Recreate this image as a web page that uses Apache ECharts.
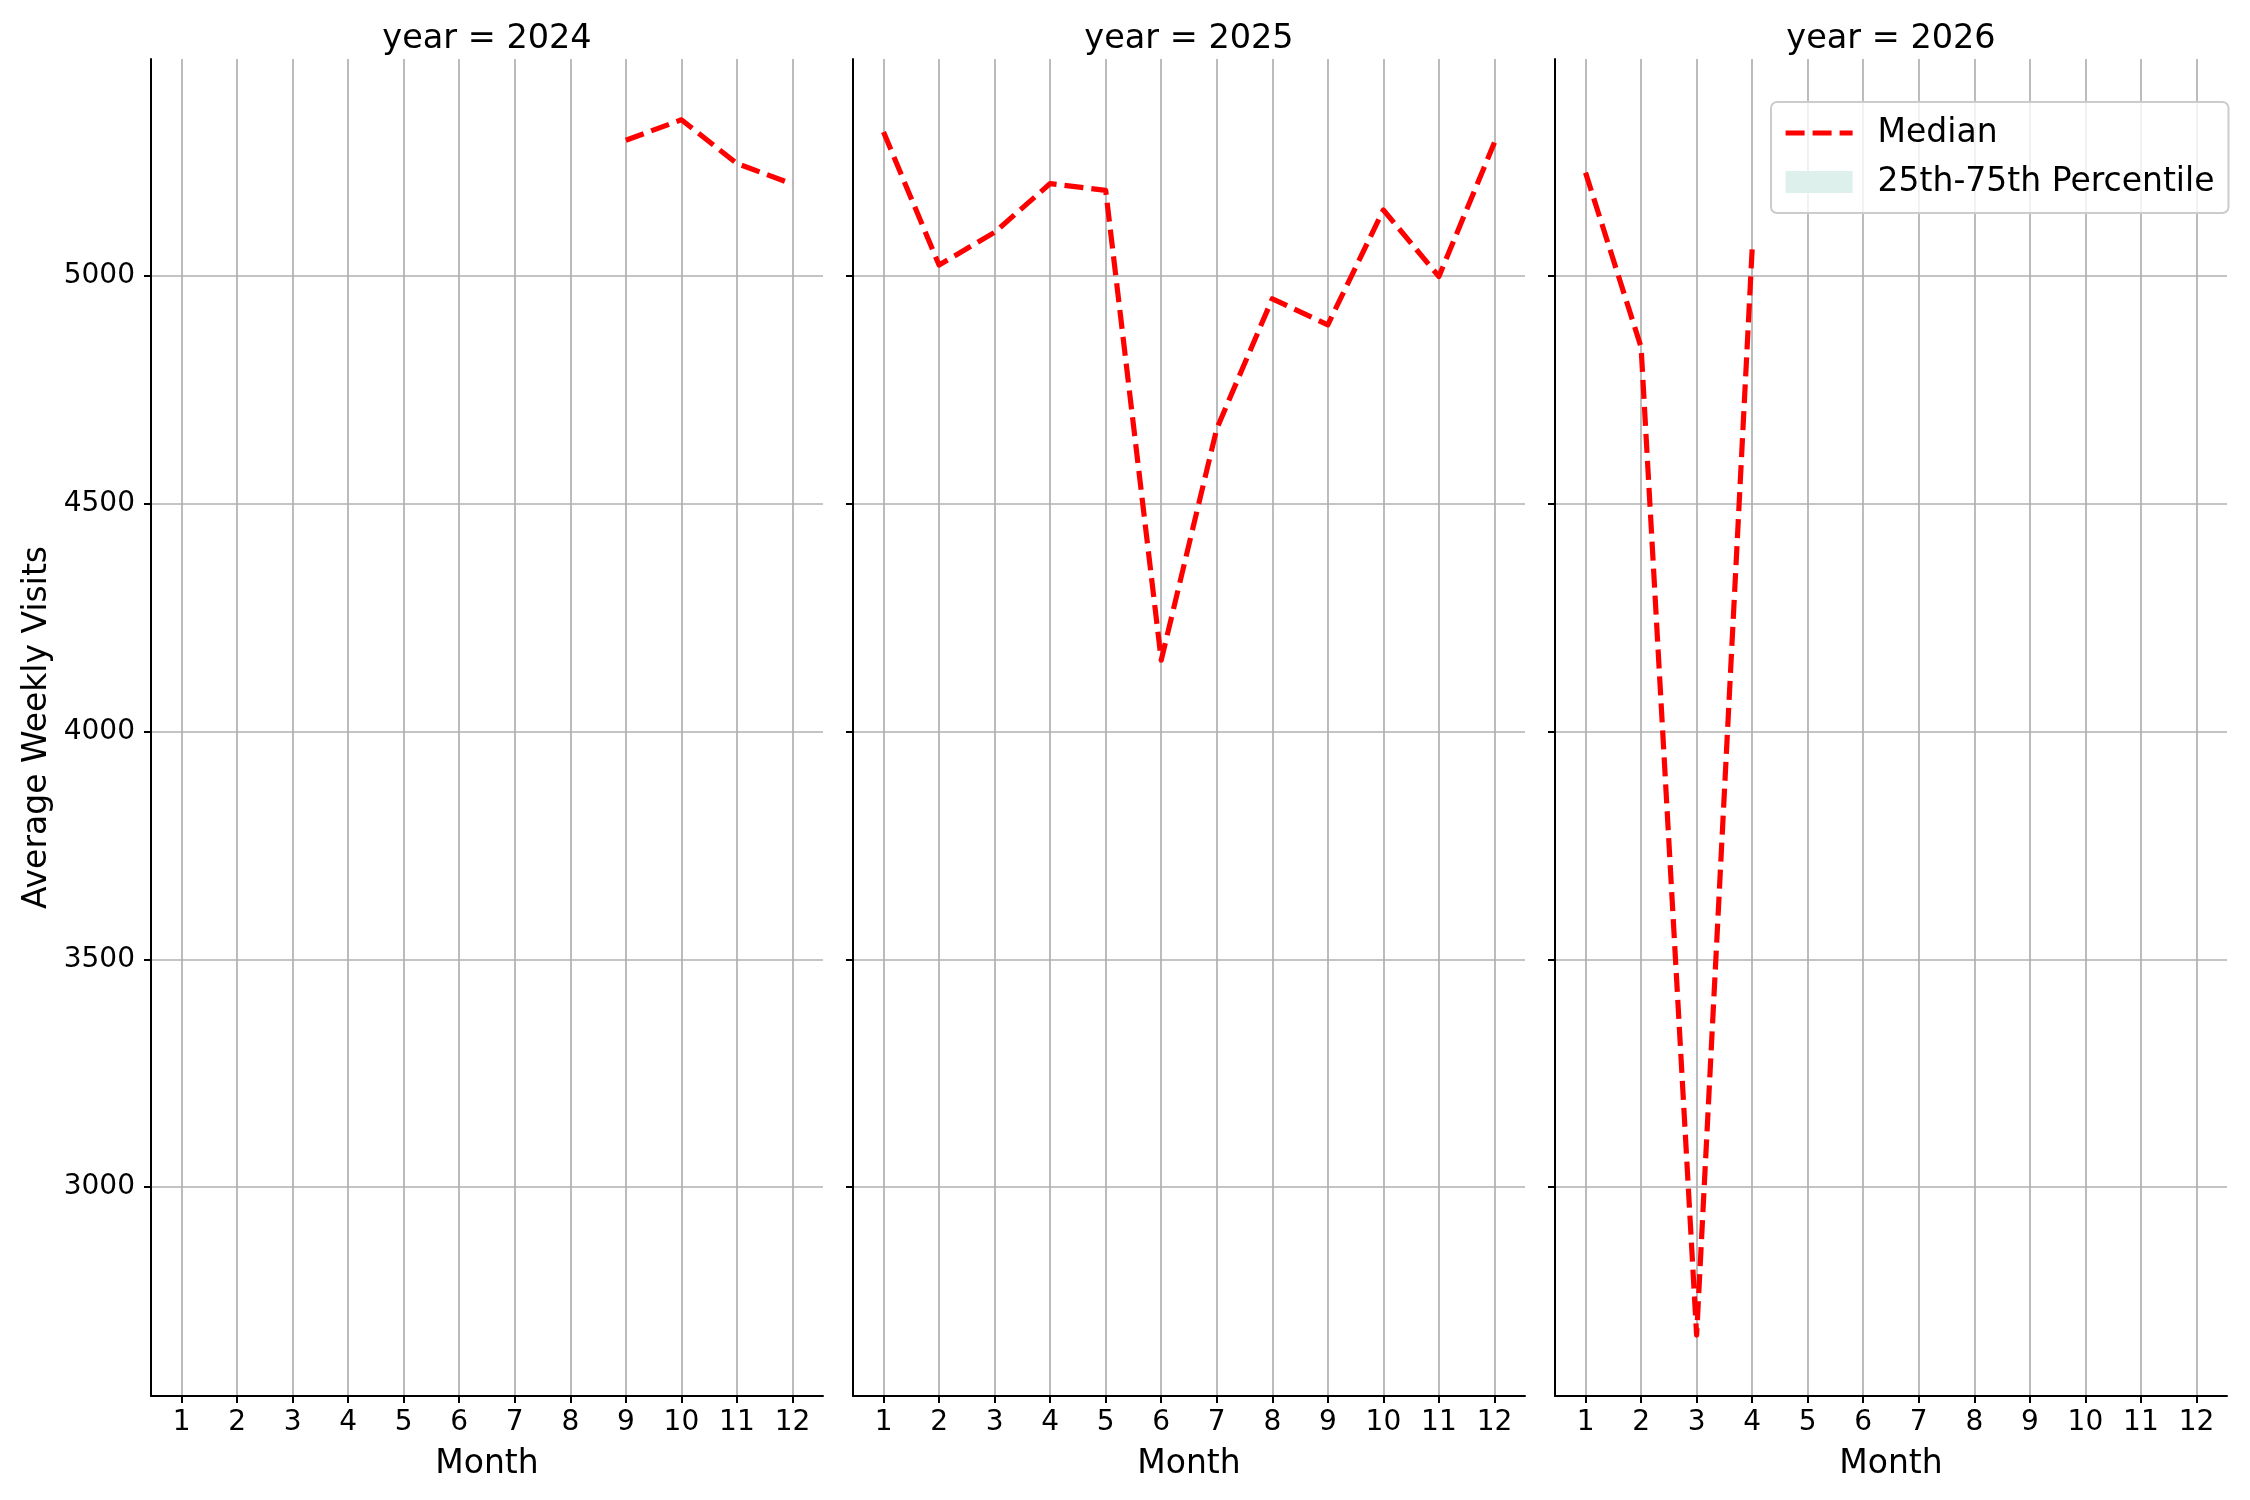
<!DOCTYPE html>
<html>
<head>
<meta charset="utf-8">
<script src="https://cdn.jsdelivr.net/npm/echarts@6/dist/echarts.min.js"></script>
<style>
html,body{margin:0;padding:0;background:#fff;}
#chart{width:2250px;height:1500px;}
</style>
</head>
<body>
<div id="chart"></div>
<script>
// ---- data ----
const years = [2024, 2025, 2026];
const months = [1, 2, 3, 4, 5, 6, 7, 8, 9, 10, 11, 12];
const median2024 = [null, null, null, null, null, null, null, null, 5298, 5343, 5247, 5202];
const median2025 = [5316, 5024, 5096, 5203, 5188, 4157, 4665, 4950, 4893, 5145, 4999, 5293];
const median2026 = [5227, 4844, 2675, 5059, null, null, null, null, null, null, null, null];
const yTicks = [3000, 3500, 4000, 4500, 5000];
const medianByYear = [median2024, median2025, median2026];

// ---- axis limits (matplotlib-style 5% margins) ----
const allVals = medianByYear.flat().filter(v => v != null);
const dMin = Math.min(...allVals), dMax = Math.max(...allVals);
const yPad = (dMax - dMin) * 0.05;
const yMin = dMin - yPad, yMax = dMax + yPad;
const xPad = (months[months.length - 1] - months[0]) * 0.05;
const xMin = months[0] - xPad, xMax = months[months.length - 1] + xPad;

const FONT = 'DejaVu Sans';
const gridLefts = [151, 853, 1555];
const gridWidth = 672;
const gridTop = 59, gridBottomY = 1396;

const grids = gridLefts.map(l => ({left: l, top: gridTop, width: gridWidth, height: gridBottomY - gridTop, containLabel: false}));

const xAxes = gridLefts.map((l, i) => ({
  type: 'value', gridIndex: i, min: xMin, max: xMax,
  name: 'Month', nameLocation: 'middle', nameGap: 52,
  nameTextStyle: {fontFamily: FONT, fontSize: 33, color: '#000'},
  axisLine: {show: true, onZero: false, lineStyle: {color: '#000', width: 2}},
  axisTick: {show: true, customValues: months, length: 7, lineStyle: {color: '#000', width: 2}},
  axisLabel: {show: true, customValues: months, fontFamily: FONT, fontSize: 28, color: '#000', margin: 13,
              formatter: v => String(v)},
  splitLine: {show: true, lineStyle: {color: '#b0b0b0', width: 1.7}}
}));

const yAxes = gridLefts.map((l, i) => ({
  type: 'value', gridIndex: i, min: yMin, max: yMax,
  name: i === 0 ? 'Average Weekly Visits' : '', nameLocation: 'middle', nameGap: 97, nameRotate: 90,
  nameTextStyle: {fontFamily: FONT, fontSize: 33, color: '#000'},
  axisLine: {show: true, onZero: false, lineStyle: {color: '#000', width: 2}},
  axisTick: {show: true, customValues: yTicks, length: 7, lineStyle: {color: '#000', width: 2}},
  axisLabel: {show: i === 0, customValues: yTicks, fontFamily: FONT, fontSize: 28, color: '#000', margin: 16,
              formatter: v => String(v)},
  splitLine: {show: true, lineStyle: {color: '#b0b0b0', width: 1.7}}
}));

const titles = years.map((y, i) => ({
  text: 'year = ' + y,
  left: gridLefts[i] + gridWidth / 2, top: 22, textAlign: 'center', padding: 0,
  textStyle: {fontFamily: FONT, fontSize: 33.5, fontWeight: 'normal', color: '#000'}
}));

const series = years.map((y, i) => ({
  name: 'Median', type: 'line', xAxisIndex: i, yAxisIndex: i,
  data: months.map((m, k) => [m, medianByYear[i][k]]).filter(p => p[1] != null),
  symbol: 'none', showSymbol: false, z: 5,
  itemStyle: {color: '#ff0000'},
  lineStyle: {color: '#ff0000', width: 5.2, type: [19, 8], cap: 'butt', join: 'round'}
}));
series.push({
  name: '25th-75th Percentile', type: 'line', xAxisIndex: 2, yAxisIndex: 2,
  data: [], symbol: 'none', itemStyle: {color: 'rgb(222,240,235)'},
  areaStyle: {color: 'rgb(222,240,235)'}, lineStyle: {width: 0}
});

const option = {
  backgroundColor: '#fff',
  animation: false,
  title: titles,
  grid: grids,
  xAxis: xAxes,
  yAxis: yAxes,
  legend: {
    orient: 'vertical', left: 1771, top: 102,
    padding: [13, 14, 13, 12],
    itemWidth: 67, itemHeight: 22, itemGap: 13,
    backgroundColor: 'rgba(255,255,255,0.8)',
    borderColor: '#cccccc', borderWidth: 2, borderRadius: 6,
    textStyle: {fontFamily: FONT, fontSize: 33, color: '#000', padding: [0, 0, 0, 20], lineHeight: 36},
    data: [
      {name: 'Median', itemStyle: {opacity: 0}, lineStyle: {color: '#ff0000', width: 5.2, type: [19, 8]}},
      {name: '25th-75th Percentile', icon: 'rect', itemStyle: {color: 'rgb(222,240,235)'}}
    ]
  },
  series: series
};

const chart = echarts.init(document.getElementById('chart'), null, {renderer: 'canvas'});
chart.setOption(option);
</script>
</body>
</html>
